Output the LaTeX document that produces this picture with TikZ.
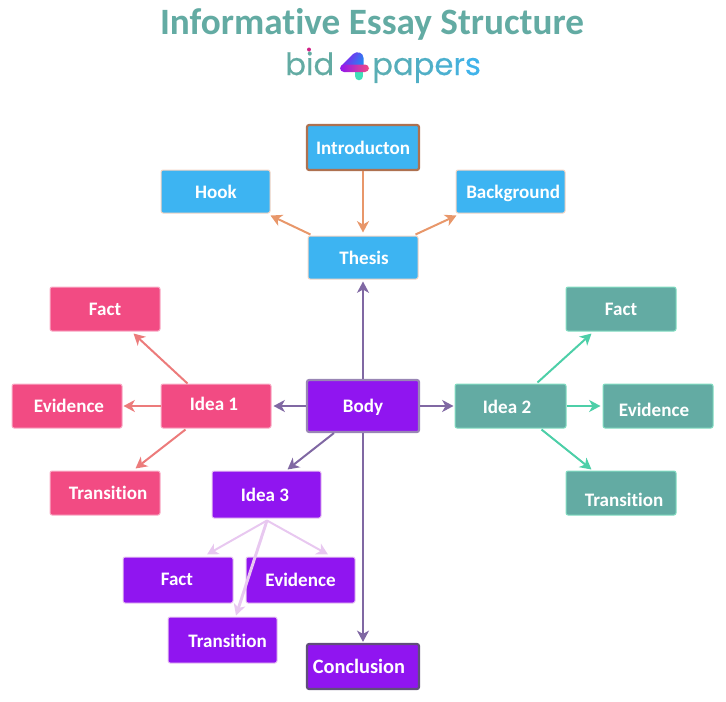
\documentclass[tikz,border=0pt]{standalone}
\usepackage{fontspec}
\setmainfont[Ligatures=CommonOff]{Carlito}
\newfontfamily\logofont[FakeBold=0.5]{Poppins}
\usetikzlibrary{arrows.meta,calc}
\definecolor{cblue}{HTML}{3DB4F2}
\definecolor{cpink}{HTML}{F24B83}
\definecolor{cteal}{HTML}{63ABA3}
\definecolor{cpurp}{HTML}{9015F0}
\definecolor{aorange}{HTML}{E8976A}
\definecolor{aviolet}{HTML}{8068A3}
\definecolor{ared}{HTML}{EC7B7B}
\definecolor{agreen}{HTML}{4DCFA8}
\definecolor{alilac}{HTML}{E8C8F0}
\definecolor{logogreen}{HTML}{40E0B8}
\definecolor{logoblue}{HTML}{1E90F0}
\definecolor{p1}{HTML}{5AAEB4}\definecolor{p2}{HTML}{55AEBC}\definecolor{p3}{HTML}{50AFC6}\definecolor{p4}{HTML}{4BB0D0}\definecolor{p5}{HTML}{46B1DC}\definecolor{p6}{HTML}{40B3EA}
\newcommand{\tsh}[3]{\raisebox{#2pt}[11pt][1pt]{\hspace*{#1pt}#3\hspace*{-#1pt}}}
\tikzset{
 x=0.75pt,y=-0.75pt,
 bx/.style={rectangle,rounded corners=1.5pt,inner sep=0pt,text=white,font=\fontsize{14.3pt}{16pt}\selectfont\bfseries,line width=0.75pt},
 bluebox/.style={bx,fill=cblue,draw=aorange!40!white},
 pinkbox/.style={bx,fill=cpink,draw=cpink!45!white},
 tealbox/.style={bx,fill=cteal,draw=agreen!70!white},
 purpbox/.style={bx,fill=cpurp,draw=alilac},
 arr/.style={-{Stealth[length=8.5pt,width=9pt,inset=2.5pt]},line width=1.5pt},
 avi/.style={arr,draw=aviolet},
 aor/.style={arr,draw=aorange},
 are/.style={arr,draw=ared},
 agr/.style={arr,draw=agreen},
 ali/.style={arr,draw=alilac},
}
\newcommand{\bxn}[7]{%
 \node[#1,minimum width={(#5-#3)*0.75pt},minimum height={(#6-#4)*0.75pt}] (#2) at ({(#3+#5)/2},{(#4+#6)/2}) {#7};}
\begin{document}
\begin{tikzpicture}
\useasboundingbox (0,0) rectangle (726,701);
% title
\node[text=cteal,font=\fontsize{27.9pt}{30pt}\selectfont\bfseries,inner sep=0pt] (title) at (372,24) {Informative Essay Structure};
\node[text=cteal,font=\logofont\fontsize{23pt}{28pt}\selectfont,inner sep=0pt,anchor=base west] (bid) at (285,75) {bid};
\node[font=\logofont\fontsize{23pt}{28pt}\selectfont,inner sep=0pt,anchor=base west] (papers) at (372,75) {\textcolor{p1}{p}\textcolor{p2}{a}\textcolor{p3}{p}\textcolor{p4}{e}\textcolor{p5}{r}\textcolor{p6}{s}};
% logo 4
\fill[magenta!70!violet] (309,49.5) circle (2);
\draw[line width=6.4pt,line cap=round,color=logogreen] (359,68) -- (359,76);
\shade[left color=cpurp,right color=logoblue,shading angle=60] (341,66) -- (353,54) .. controls (357,50.5) and (363.5,52.5) .. (363.5,58) -- (363.5,70) -- (345,72) -- cycle;
\shade[left color=cpurp,right color=cpink,rounded corners=3pt] (340,64.5) rectangle (369,72);
% boxes
\bxn{bluebox,line width=1.6pt,draw=aorange!75!black}{intro}{307}{125}{419}{170}{\tsh{0}{0}{Introducton}}
\bxn{bluebox}{hook}{161}{170}{270}{213}{\tsh{0.4}{0}{Hook}}
\bxn{bluebox}{background}{456}{170}{565}{213}{\tsh{2}{-0.3}{Background}}
\bxn{bluebox}{thesis}{308}{236}{418}{279}{\tsh{0.8}{0}{Thesis}}
\bxn{pinkbox}{factl}{50}{287}{160}{331}{\tsh{0}{0}{Fact}}
\bxn{pinkbox}{evl}{12}{384}{122}{428}{\tsh{1.5}{0}{Evidence}}
\bxn{pinkbox}{idea1}{161}{384}{271}{428}{\tsh{-1.5}{1.5}{Idea 1}}
\bxn{pinkbox}{transl}{50}{471}{160}{515}{\tsh{2.3}{0}{Transition}}
\bxn{purpbox,line width=1.6pt,draw=aviolet!80!white}{body}{307}{380}{419}{432}{\tsh{0}{0}{Body}}
\bxn{tealbox}{idea2}{455}{384}{566}{428}{\tsh{-2.6}{-0.8}{Idea 2}}
\bxn{tealbox}{factr}{566}{287}{676}{331}{\tsh{0}{0}{Fact}}
\bxn{tealbox}{evr}{603}{384}{713}{428}{\tsh{-3}{-3}{Evidence}}
\bxn{tealbox}{transr}{566}{471}{676}{515}{\tsh{2.3}{-5}{Transition}}
\bxn{purpbox}{idea3}{212}{471}{321}{518}{\tsh{-1.2}{0}{Idea 3}}
\bxn{purpbox}{factp}{123}{557}{233}{603}{\tsh{-0.8}{0.8}{Fact}}
\bxn{purpbox}{evp}{246}{557}{355}{603}{\tsh{0}{0}{Evidence}}
\bxn{purpbox}{transp}{168}{617}{277}{663}{\tsh{3.8}{-0.8}{Transition}}
\bxn{purpbox,line width=1.6pt,draw=aviolet!75!black,font=\fontsize{15.3pt}{17pt}\selectfont\bfseries}{concl}{307}{644}{419}{689}{\tsh{-3}{0}{Conclusion}}
% connectors
\draw[aor] (intro.south) -- ([shift={(0,-3)}]thesis.north);
\draw[aor] ([shift={(3,-1)}]thesis.north west) -- ([shift={(0,2)}]hook.south east);
\draw[aor] ([shift={(-3,-1)}]thesis.north east) -- ([shift={(1,2)}]background.south west);
\draw[avi] (body.north) -- ([shift={(0,2)}]thesis.south);
\draw[avi] (body.west) -- ([shift={(2,0)}]idea1.east);
\draw[avi] (body.east) -- ([shift={(-1,0)}]idea2.west);
\draw[avi] ([shift={(28,0)}]body.south west) -- ([shift={(21,-1)}]idea3.north);
\draw[avi] (body.south) -- ([shift={(0,-1)}]concl.north);
\draw[are] ([shift={(27,0)}]idea1.north west) -- ([shift={(-27,2)}]factl.south east);
\draw[are] (idea1.west) -- ([shift={(1,0)}]evl.east);
\draw[are] ([shift={(25,1)}]idea1.south west) -- ([shift={(-25,-2)}]transl.north east);
\draw[agr] ([shift={(-29,-1)}]idea2.north east) -- ([shift={(26,2)}]factr.south west);
\draw[agr] (idea2.east) -- ([shift={(-2,0)}]evr.west);
\draw[agr] ([shift={(-25,1)}]idea2.south east) -- ([shift={(26,-1)}]transr.north west);
\coordinate (fork) at ($(idea3.south)+(0.5,2)$);
\draw[ali] (fork) -- ([shift={(29,-2)}]factp.north);
\draw[ali] (fork) -- ([shift={(27.5,-2)}]evp.north);
\draw[ali,line width=2.2pt] (fork) -- ([shift={(13.5,-1)}]transp.north);
\end{tikzpicture}
\end{document}
